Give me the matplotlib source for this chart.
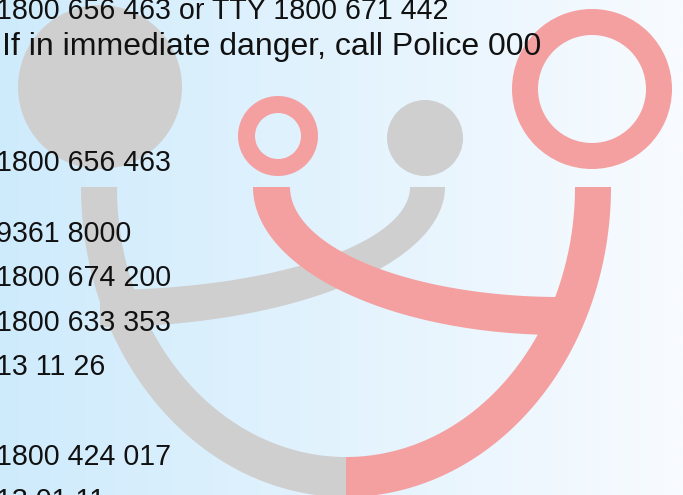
import matplotlib
matplotlib.use("Agg")
import matplotlib.pyplot as plt
from matplotlib.patches import Polygon, Circle, Wedge
import numpy as np

W, H = 683, 495

# text lines (phone numbers), left side of the page
text_lines = [
    "1800 656 463 or TTY 1800 671 442",
    "If in immediate danger, call Police 000",
    "1800 656 463",
    "9361 8000",
    "1800 674 200",
    "1800 633 353",
    "13 11 26",
    "1800 424 017",
    "13 01 11",
]
text_x = [-4, 2, -4, -4, -4, -4, -4, -4, -4]
text_baseline = [19, 55, 171, 242, 286, 331, 375, 465, 509]
text_size = [20.6, 23, 20.6, 20.6, 20.6, 20.6, 20.6, 20.6, 20.6]

# logo colours
PINK = "#f4a0a0"
GREY = "#cfcfcf"
BG_LEFT = np.array([206, 235, 252]) / 255
BG_RIGHT = np.array([248, 251, 255]) / 255


def ellipse_band(ax, cx, cy, outer, inner, t0, t1, color, z):
    # band between two ellipses, y axis pointing down
    t = np.linspace(t0, t1, 200)
    xo = cx + outer[0] * np.cos(t)
    yo = cy + outer[1] * np.sin(t)
    xi = cx + inner[0] * np.cos(t[::-1])
    yi = cy + inner[1] * np.sin(t[::-1])
    pts = np.column_stack([np.r_[xo, xi], np.r_[yo, yi]])
    ax.add_patch(Polygon(pts, closed=True, color=color, lw=0, zorder=z))


fig = plt.figure(figsize=(W / 100, H / 100), dpi=100)
ax = fig.add_axes([0, 0, 1, 1])
ax.set_xlim(0, W)
ax.set_ylim(H, 0)
ax.axis("off")

# background gradient
grad = np.linspace(0, 1, 256)[None, :, None]
bg = BG_LEFT[None, None, :] * (1 - grad) + BG_RIGHT[None, None, :] * grad
ax.imshow(bg, extent=(0, W, H, 0), aspect="auto", zorder=0)

# heads
ax.add_patch(Circle((100, 87), 82, color=GREY, lw=0, zorder=1))
ax.add_patch(Circle((425, 138), 38, color=GREY, lw=0, zorder=1))
ax.add_patch(Wedge((278, 136), 40, 0, 360, width=17, color=PINK, lw=0, zorder=1))
ax.add_patch(Wedge((592, 89), 80, 0, 360, width=26, color=PINK, lw=0, zorder=1))

# arms
ellipse_band(ax, 100, 187, (345, 140), (310, 103), 0, np.pi / 2, GREY, 2)
ellipse_band(ax, 560, 187, (307, 148), (270, 110), np.pi / 2, np.pi, PINK, 3)

# big U: grey left half, pink right half
ellipse_band(ax, 346, 187, (265, 310), (229, 270), np.pi / 2, np.pi, GREY, 2)
ellipse_band(ax, 346, 187, (265, 310), (229, 270), 0, np.pi / 2, PINK, 3)

for s, x, y, fs in zip(text_lines, text_x, text_baseline, text_size):
    ax.text(x, y, s, fontsize=fs, color="#111111", ha="left", va="baseline",
            family="Liberation Sans", zorder=5)

fig.savefig("out.png", dpi=100)
